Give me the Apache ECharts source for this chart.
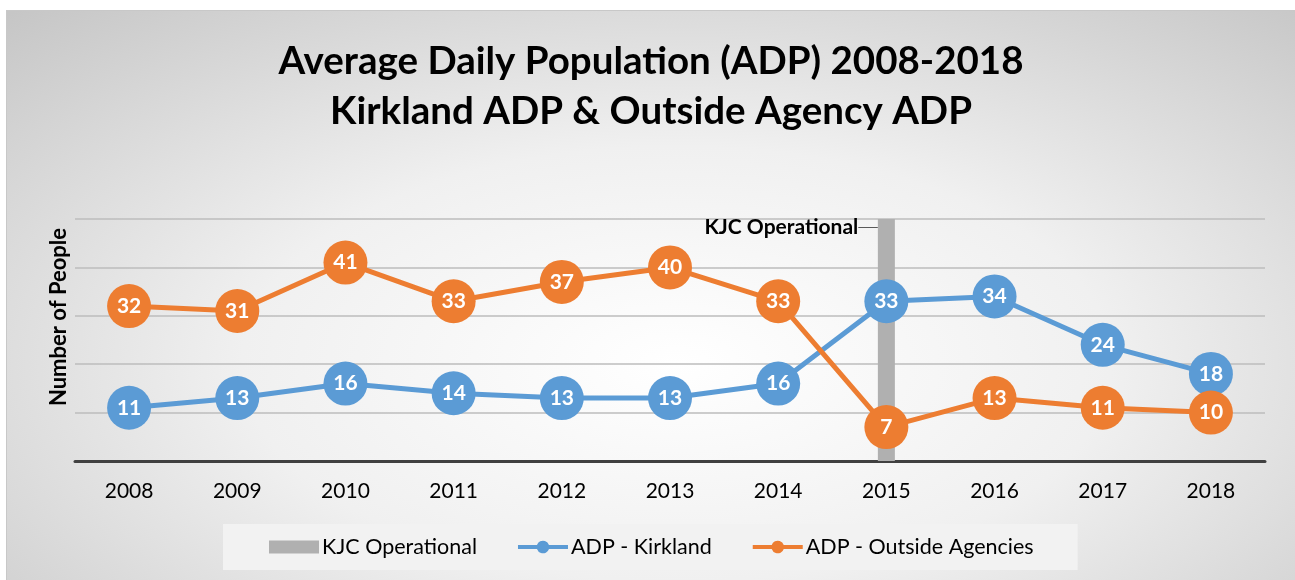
<!DOCTYPE html>
<html>
<head>
<meta charset="utf-8">
<script src="https://cdn.jsdelivr.net/npm/echarts@6/dist/echarts.min.js"></script>
<style>
  html, body { margin: 0; padding: 0; background: #ffffff; }
  #wrap { position: absolute; left: 6px; top: 10px; width: 1289px; height: 570px;
    border-top: 1px solid #c8c8c8; border-left: 1px solid #c8c8c8; box-sizing: border-box;
    background: radial-gradient(ellipse 75% 85% at 52% 62%, #ffffff 0%, #f0f0f0 45%, #c6c6c6 100%); }
  #chart { width: 100%; height: 100%; }
</style>
</head>
<body>
<div id="wrap"><div id="chart"></div></div>
<script>
const years = ['2008','2009','2010','2011','2012','2013','2014','2015','2016','2017','2018'];
const kirkland = [11, 13, 16, 14, 13, 13, 16, 33, 34, 24, 18];
const outside = [32, 31, 41, 33, 37, 40, 33, 7, 13, 11, 10];
const kjc = [null, null, null, null, null, null, null, 50, null, null, null];

const chart = echarts.init(document.getElementById('chart'), null, { renderer: 'canvas' });
const FONT = 'Lato';
const markerLabel = { show: true, position: 'inside', color: '#ffffff', fontWeight: 'bold', fontSize: 21, fontFamily: FONT };
const lineIcon = 'path://M0,4.5H19A6.32,6.32,0,0,1,31,4.5H50V8.5H31A6.32,6.32,0,0,1,19,8.5H0Z';

chart.setOption({
  animation: false,
  title: {
    text: 'Average Daily Population (ADP) 2008-2018\nKirkland ADP & Outside Agency ADP',
    left: 'center', top: 21,
    textStyle: { fontFamily: FONT, fontWeight: 'bold', fontSize: 38.5, lineHeight: 50, color: '#000000' }
  },
  legend: {
    bottom: 10, left: 216,
    backgroundColor: '#f2f2f2',
    padding: [12, 44, 12, 46],
    itemGap: 41, itemWidth: 50, itemHeight: 13,
    textStyle: { fontFamily: FONT, fontSize: 21.5, color: '#000000', padding: [0, 0, 0, -2] },
    data: [
      { name: 'KJC Operational', icon: 'rect' },
      { name: 'ADP - Kirkland', icon: lineIcon },
      { name: 'ADP - Outside Agencies', icon: lineIcon }
    ]
  },
  grid: { left: 68, right: 30, top: 208, bottom: 119 },
  xAxis: {
    type: 'category', data: years, boundaryGap: true,
    axisLine: { lineStyle: { color: '#404040', width: 3 } },
    axisTick: { show: false },
    axisLabel: { fontFamily: FONT, fontSize: 21, color: '#000000', margin: 20 }
  },
  yAxis: {
    type: 'value', min: 0, max: 50, interval: 10,
    name: 'Number of People', nameLocation: 'middle', nameGap: 5,
    nameTextStyle: { fontFamily: FONT, fontWeight: 'bold', fontSize: 22, color: '#000000', padding: [0, 0, 0, 46] },
    axisLabel: { show: false },
    axisLine: { show: false }, axisTick: { show: false },
    splitLine: { lineStyle: { color: '#bdbdbd', width: 1.5 } }
  },
  series: [
    {
      name: 'KJC Operational', type: 'bar', data: kjc, barWidth: 17, z: 1,
      itemStyle: { color: '#b0b0b0' },
      label: { show: true, position: 'top', formatter: 'KJC Operational', fontFamily: FONT, fontWeight: 'bold', fontSize: 21, color: '#000000' },
      labelLayout: { dx: -105, dy: 24 },
      labelLine: { show: true, lineStyle: { color: '#595959', width: 1 } }
    },
    {
      name: 'ADP - Kirkland', type: 'line', data: kirkland, z: 3,
      symbol: 'circle', symbolSize: 44,
      lineStyle: { color: '#5b9bd5', width: 5 },
      itemStyle: { color: '#5b9bd5' },
      label: markerLabel
    },
    {
      name: 'ADP - Outside Agencies', type: 'line', data: outside, z: 4,
      symbol: 'circle', symbolSize: 44,
      lineStyle: { color: '#ed7d31', width: 5 },
      itemStyle: { color: '#ed7d31' },
      label: markerLabel
    }
  ]
});
</script>
</body>
</html>
